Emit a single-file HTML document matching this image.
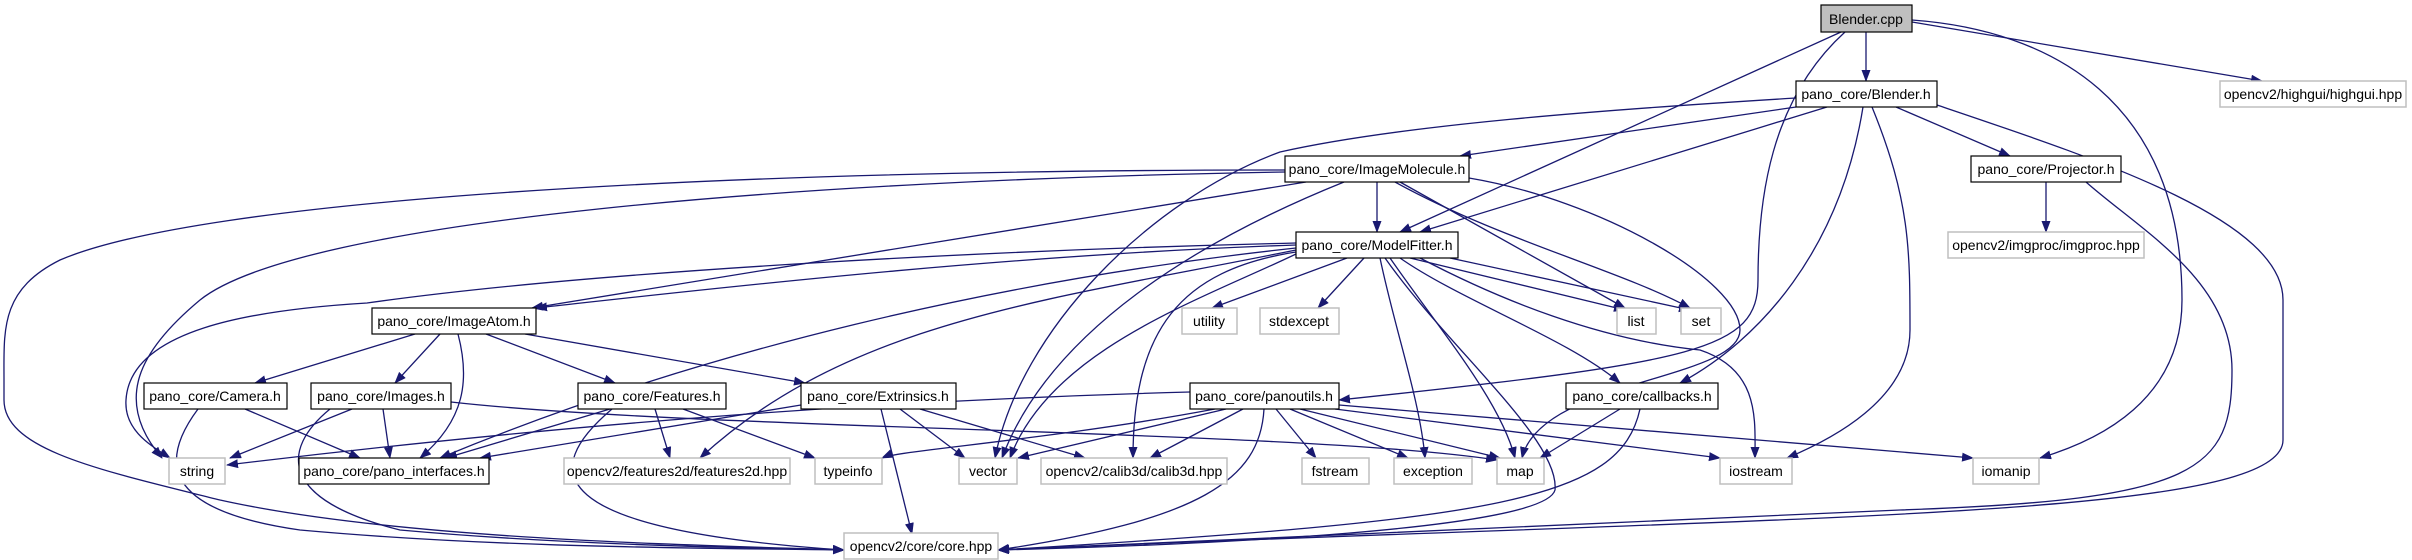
<!DOCTYPE html>
<html><head><meta charset="utf-8"><style>
html,body{margin:0;padding:0;background:#fff;}
svg{display:block;}
text{font-family:"Liberation Sans",sans-serif;font-size:14px;fill:#000;text-anchor:middle;}
.e{fill:none;stroke:#191970;stroke-width:1.3;marker-end:url(#a);}
.b{fill:#fff;stroke:#000;stroke-width:1.2;}
.g{fill:#fff;stroke:#bfbfbf;stroke-width:1.5;}
</style></head><body>
<svg width="2412" height="560" viewBox="0 0 2412 560" xmlns="http://www.w3.org/2000/svg">
<defs><marker id="a" markerUnits="userSpaceOnUse" markerWidth="12" markerHeight="10" refX="11" refY="4.5" orient="auto"><path d="M0,0 L12,4.5 L0,9 z" fill="#191970"/></marker></defs>
<g>
<!-- Blender.cpp -->
<path class="e" d="M1866,32 L1866,81"/>
<path class="e" d="M1912,22 L2262,81"/>
<path class="e" d="M1841,32 L1400,232"/>
<path class="e" d="M1845,32 C1770,100 1758,200 1758,280 C1758,350 1700,362 1339,400"/>
<path class="e" d="M1912,20 C2050,30 2182,100 2182,300 C2182,400 2100,440 2040,458"/>
<!-- Blender.h -->
<path class="e" d="M1796,107 L1460,156"/>
<path class="e" d="M1827,107 L1420,232"/>
<path class="e" d="M1896,107 L2010,156"/>
<path class="e" d="M1863,107 C1840,250 1760,340 1680,383"/>
<path class="e" d="M1872,107 C1910,200 1910,250 1910,330 C1910,400 1830,440 1787,458"/>
<path class="e" d="M1937,105 C2100,160 2283,220 2283,300 L2283,440 C2283,520 1800,515 998,550"/>
<path class="e" d="M1796,98 C1600,110 1400,125 1280,152 C1150,200 1020,330 995,458"/>
<!-- ImageMolecule -->
<path class="e" d="M1377,182 L1377,232"/>
<path class="e" d="M1400,182 L1625,308"/>
<path class="e" d="M1395,182 C1500,240 1620,270 1690,308"/>
<path class="e" d="M1469,178 C1600,200 1740,280 1740,330 C1740,380 1540,380 1522,458"/>
<path class="e" d="M1344,182 C1200,240 1050,330 1002,458"/>
<path class="e" d="M1306,182 C1000,230 700,280 532,308"/>
<path class="e" d="M1285,172 C800,180 300,220 200,300 C140,350 112,400 162,458"/>
<path class="e" d="M1285,170 C700,170 200,200 60,260 C0,290 4,330 4,380 L4,400 C4,450 100,470 220,500 C400,540 700,545 844,550"/>
<!-- ModelFitter -->
<path class="e" d="M1347,258 L1212,308"/>
<path class="e" d="M1364,258 L1318,308"/>
<path class="e" d="M1410,258 L1625,310"/>
<path class="e" d="M1450,258 L1690,310"/>
<path class="e" d="M1420,258 C1500,300 1600,340 1700,350 C1760,370 1755,420 1755,458"/>
<path class="e" d="M1400,258 C1460,300 1570,340 1620,383"/>
<path class="e" d="M1390,258 C1440,330 1500,400 1515,458"/>
<path class="e" d="M1380,258 C1395,330 1420,400 1425,458"/>
<path class="e" d="M1385,258 C1450,350 1560,440 1555,490 C1545,530 1200,545 998,550"/>
<path class="e" d="M1296,252 C1180,270 1133,330 1133,458"/>
<path class="e" d="M1296,254 C1200,300 1050,350 1010,458"/>
<path class="e" d="M1296,250 C1050,300 850,320 700,458"/>
<path class="e" d="M1296,248 C1000,280 700,350 440,458"/>
<path class="e" d="M1296,245 C1000,255 700,290 536,308"/>
<path class="e" d="M1296,243 C1000,250 600,270 367,303 C250,310 130,330 126,400 C124,430 150,445 170,458"/>
<!-- ImageAtom -->
<path class="e" d="M415,334 L255,383"/>
<path class="e" d="M440,334 L395,383"/>
<path class="e" d="M486,334 L615,383"/>
<path class="e" d="M525,334 L805,383"/>
<path class="e" d="M458,334 C470,380 465,420 420,458"/>
<!-- Camera -->
<path class="e" d="M198,409 C160,460 160,510 300,530 C500,548 700,548 844,550"/>
<path class="e" d="M245,409 L360,458"/>
<!-- Images -->
<path class="e" d="M352,409 L230,458"/>
<path class="e" d="M383,409 L390,458"/>
<path class="e" d="M330,409 C280,450 280,500 400,530 C600,548 800,548 844,550"/>
<path class="e" d="M451,402 C700,430 1300,430 1497,460"/>
<!-- Features -->
<path class="e" d="M610,409 L446,458"/>
<path class="e" d="M612,409 C540,470 540,530 844,550"/>
<path class="e" d="M655,409 L670,458"/>
<path class="e" d="M683,409 L815,458"/>
<!-- Extrinsics -->
<path class="e" d="M801,405 L480,458"/>
<path class="e" d="M881,409 L912,534"/>
<path class="e" d="M900,409 L965,458"/>
<path class="e" d="M920,409 L1085,458"/>
<!-- panoutils -->
<path class="e" d="M1190,392 C900,400 600,420 227,465"/>
<path class="e" d="M1215,409 C1050,440 900,450 882,458"/>
<path class="e" d="M1226,409 L1018,458"/>
<path class="e" d="M1243,409 L1150,458"/>
<path class="e" d="M1276,409 L1316,458"/>
<path class="e" d="M1290,409 L1408,458"/>
<path class="e" d="M1300,409 L1500,458"/>
<path class="e" d="M1335,409 L1720,458"/>
<path class="e" d="M1339,405 L1973,458"/>
<path class="e" d="M1264,409 C1260,480 1200,520 998,550"/>
<!-- callbacks -->
<path class="e" d="M1620,409 L1540,458"/>
<path class="e" d="M1640,409 C1620,500 1500,520 998,550"/>
<!-- Projector -->
<path class="e" d="M2046,182 L2046,232"/>
<path class="e" d="M2086,182 C2140,230 2232,280 2232,370 C2232,470 2200,500 1900,510 C1500,530 1100,545 998,550"/>
</g>
<!-- nodes -->
<rect x="1821" y="5" width="91" height="27" fill="#bfbfbf" stroke="#000" stroke-width="1.2"/><text x="1866" y="24">Blender.cpp</text>
<rect class="b" x="1796" y="81" width="141" height="26"/><text x="1866" y="99">pano_core/Blender.h</text>
<rect class="g" x="2220" y="81" width="186" height="26"/><text x="2313" y="99">opencv2/highgui/highgui.hpp</text>
<rect class="b" x="1285" y="156" width="184" height="26"/><text x="1377" y="174">pano_core/ImageMolecule.h</text>
<rect class="b" x="1971" y="156" width="150" height="26"/><text x="2046" y="174">pano_core/Projector.h</text>
<rect class="b" x="1296" y="232" width="162" height="26"/><text x="1377" y="250">pano_core/ModelFitter.h</text>
<rect class="g" x="1948" y="232" width="196" height="26"/><text x="2046" y="250">opencv2/imgproc/imgproc.hpp</text>
<rect class="b" x="372" y="308" width="164" height="26"/><text x="454" y="326">pano_core/ImageAtom.h</text>
<rect class="g" x="1182" y="308" width="55" height="26"/><text x="1209" y="326">utility</text>
<rect class="g" x="1260" y="308" width="79" height="26"/><text x="1299" y="326">stdexcept</text>
<rect class="g" x="1617" y="308" width="39" height="26"/><text x="1636" y="326">list</text>
<rect class="g" x="1681" y="308" width="40" height="26"/><text x="1701" y="326">set</text>
<rect class="b" x="144" y="383" width="143" height="26"/><text x="215" y="401">pano_core/Camera.h</text>
<rect class="b" x="311" y="383" width="140" height="26"/><text x="381" y="401">pano_core/Images.h</text>
<rect class="b" x="578" y="383" width="148" height="26"/><text x="652" y="401">pano_core/Features.h</text>
<rect class="b" x="801" y="383" width="155" height="26"/><text x="878" y="401">pano_core/Extrinsics.h</text>
<rect class="b" x="1190" y="383" width="149" height="26"/><text x="1264" y="401">pano_core/panoutils.h</text>
<rect class="b" x="1566" y="383" width="152" height="26"/><text x="1642" y="401">pano_core/callbacks.h</text>
<rect class="g" x="169" y="458" width="56" height="26"/><text x="197" y="476">string</text>
<rect class="b" x="299" y="458" width="190" height="26"/><text x="394" y="476">pano_core/pano_interfaces.h</text>
<rect class="g" x="564" y="458" width="226" height="26"/><text x="677" y="476">opencv2/features2d/features2d.hpp</text>
<rect class="g" x="815" y="458" width="67" height="26"/><text x="848" y="476">typeinfo</text>
<rect class="g" x="959" y="458" width="58" height="26"/><text x="988" y="476">vector</text>
<rect class="g" x="1041" y="458" width="186" height="26"/><text x="1134" y="476">opencv2/calib3d/calib3d.hpp</text>
<rect class="g" x="1302" y="458" width="67" height="26"/><text x="1335" y="476">fstream</text>
<rect class="g" x="1394" y="458" width="78" height="26"/><text x="1433" y="476">exception</text>
<rect class="g" x="1497" y="458" width="47" height="26"/><text x="1520" y="476">map</text>
<rect class="g" x="1720" y="458" width="72" height="26"/><text x="1756" y="476">iostream</text>
<rect class="g" x="1973" y="458" width="66" height="26"/><text x="2006" y="476">iomanip</text>
<rect class="g" x="844" y="533" width="154" height="26"/><text x="921" y="551">opencv2/core/core.hpp</text>
</svg>
</body></html>
